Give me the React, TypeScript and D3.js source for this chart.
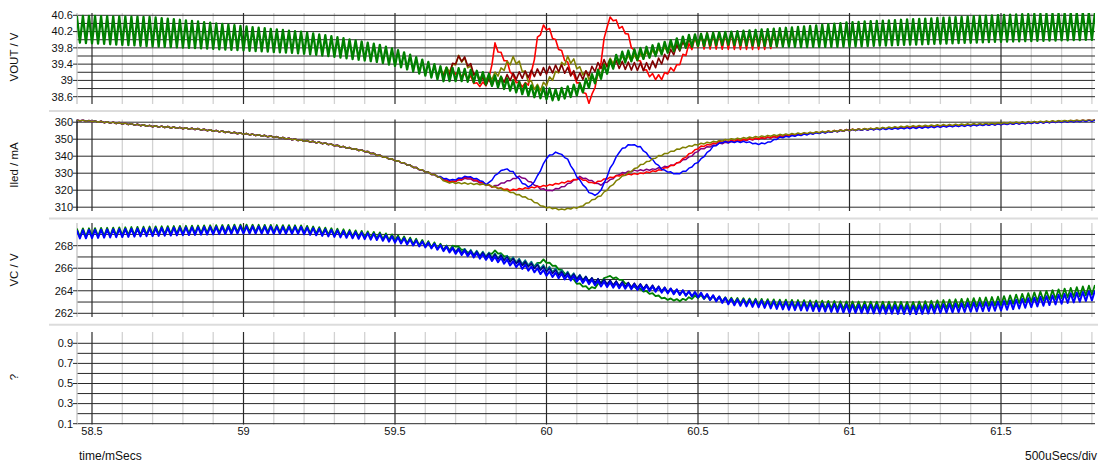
import React from 'react';
import * as d3 from 'd3';

type Pt = [number, number];

const WIDTH = 1098;
const HEIGHT = 463;

// Time axis, ms
const T_MIN = 58.45;
const T_MAX = 61.81;
const X_MAJOR_TICKS = [58.5, 59, 59.5, 60, 60.5, 61, 61.5];
const X_TICK_LABELS = ['58.5', '59', '59.5', '60', '60.5', '61', '61.5'];
// Converter switching period (ms): every waveform carries this ripple
const SWITCH_PERIOD = 0.02;

// ---------- VOUT / V ----------
const VOUT_TICKS = [38.6, 39, 39.4, 39.8, 40.2, 40.6];
const VOUT_TICK_LABELS = ['38.6', '39', '39.4', '39.8', '40.2', '40.6'];

const VOUT_GREEN_MID: Pt[] = [
  [58.45, 40.26], [58.69, 40.2], [58.85, 40.12], [58.99, 40.04], [59.19, 39.93],
  [59.29, 39.84], [59.45, 39.66], [59.52, 39.52], [59.6, 39.3], [59.66, 39.15],
  [59.72, 39.14], [59.78, 39.08], [59.85, 38.95], [59.95, 38.74], [60.03, 38.64],
  [60.11, 38.79], [60.18, 39.18], [60.24, 39.55], [60.34, 39.7], [60.47, 39.97],
  [60.57, 40.03], [60.84, 40.07], [61.0, 40.13], [61.17, 40.18], [61.5, 40.28],
  [61.81, 40.34],
];
const VOUT_GREEN_HALF: Pt[] = [
  [58.45, 0.33], [58.69, 0.36], [58.99, 0.3], [59.29, 0.25], [59.52, 0.2],
  [59.66, 0.17], [59.8, 0.14], [60.3, 0.14], [60.5, 0.15], [60.6, 0.16],
  [60.84, 0.25], [61.0, 0.3], [61.5, 0.33], [61.81, 0.34],
];

const VOUT_RED_MID: Pt[] = [
  [59.64, 39.18], [59.7, 39.2], [59.75, 39.06], [59.77, 38.89], [59.8, 38.92],
  [59.81, 39.01], [59.83, 39.87], [59.847, 39.67], [59.87, 39.43], [59.89, 39.08],
  [59.913, 38.89], [59.936, 38.89], [59.946, 39.01], [59.955, 39.33], [59.969, 39.99],
  [59.988, 40.31], [60.005, 40.29], [60.021, 40.07], [60.045, 39.75], [60.068, 39.43],
  [60.087, 39.13], [60.11, 38.89], [60.134, 38.57], [60.144, 38.44], [60.153, 38.69],
  [60.177, 39.33], [60.186, 39.82], [60.203, 40.48], [60.219, 40.53], [60.243, 40.31],
  [60.266, 40.17], [60.285, 39.75], [60.309, 39.43], [60.332, 39.18], [60.358, 39.08],
  [60.384, 39.08], [60.398, 39.21], [60.431, 39.33], [60.45, 39.58], [60.474, 39.85],
  [60.5, 39.97], [60.6, 39.97], [60.72, 39.98], [60.78, 40.05], [60.82, 40.07],
];
const VOUT_RED_HALF: Pt[] = [[59.64, 0.05], [60.45, 0.06], [60.52, 0.2], [60.74, 0.22], [60.82, 0.17]];

const VOUT_OLIVE_MID: Pt[] = [
  [59.64, 39.18], [59.688, 39.3], [59.708, 39.55], [59.728, 39.5], [59.748, 39.3],
  [59.771, 39.11], [59.813, 39.06], [59.847, 39.21], [59.87, 39.4], [59.893, 39.53],
  [59.913, 39.38], [59.936, 39.08], [59.955, 38.86], [59.979, 38.81], [60.002, 38.96],
  [60.028, 39.13], [60.051, 39.38], [60.071, 39.53], [60.091, 39.45], [60.11, 39.26],
  [60.144, 39.08], [60.167, 39.01], [60.183, 39.26], [60.2, 39.45], [60.243, 39.53],
  [60.292, 39.55], [60.342, 39.65], [60.391, 39.75], [60.441, 39.85], [60.49, 39.97],
  [60.53, 40.02],
];
const VOUT_OLIVE_HALF: Pt[] = [[59.64, 0.07], [60.53, 0.08]];

const VOUT_MAROON_MID: Pt[] = [
  [59.64, 39.18], [59.681, 39.21], [59.701, 39.5], [59.721, 39.55], [59.741, 39.43],
  [59.761, 39.21], [59.781, 39.01], [59.813, 38.94], [59.847, 39.01], [59.88, 39.08],
  [59.913, 39.13], [59.946, 39.16], [59.979, 39.21], [60.012, 39.26], [60.045, 39.31],
  [60.078, 39.21], [60.104, 39.08], [60.127, 39.13], [60.16, 39.31], [60.193, 39.43],
  [60.226, 39.4], [60.276, 39.35], [60.325, 39.33], [60.358, 39.4], [60.391, 39.55],
  [60.424, 39.75], [60.457, 39.89], [60.49, 39.99], [60.53, 40.02],
];
const VOUT_MAROON_HALF: Pt[] = [[59.64, 0.08], [60.53, 0.1]];

// ---------- Iled / mA ----------
const ILED_TICKS = [310, 320, 330, 340, 350, 360];
const ILED_TICK_LABELS = ['310', '320', '330', '340', '350', '360'];

const ILED_COMMON: Pt[] = [
  [58.45, 361.2], [58.6, 359.3], [58.69, 357.8], [58.85, 355.9], [58.94, 354.3],
  [59.1, 351.4], [59.27, 347.5], [59.4, 343.0], [59.52, 336.5], [59.6, 331.0],
  [59.64, 328.3],
];
const ILED_OLIVE_TAIL: Pt[] = [
  [59.67, 324.6], [59.73, 324.0], [59.78, 323.5], [59.81, 323.0], [59.88, 319.0],
  [59.94, 315.1], [59.99, 310.2], [60.05, 308.6], [60.11, 310.0], [60.18, 317.0],
  [60.24, 326.9], [60.31, 334.7], [60.37, 340.0], [60.44, 344.5], [60.5, 347.0],
  [60.6, 349.8], [60.76, 352.4], [60.99, 355.3], [61.2, 357.6], [61.5, 359.4],
  [61.81, 361.5],
];
const ILED_BLUE_TAIL: Pt[] = [
  [59.67, 326.5], [59.691, 325.9], [59.738, 328.2], [59.781, 325.9], [59.804, 323.0],
  [59.837, 329.8], [59.863, 332.7], [59.889, 330.8], [59.922, 323.9], [59.946, 321.6],
  [59.969, 327.8], [60.002, 339.6], [60.035, 342.5], [60.068, 338.6], [60.101, 327.8],
  [60.144, 318.0], [60.167, 317.0], [60.186, 322.0], [60.21, 332.7], [60.243, 343.5],
  [60.276, 347.1], [60.309, 345.5], [60.351, 337.6], [60.384, 331.8], [60.431, 329.4],
  [60.464, 331.8], [60.507, 337.6], [60.549, 345.5], [60.582, 348.4], [60.662, 348.4],
  [60.695, 347.1], [60.728, 347.8], [60.771, 351.0], [60.88, 353.3], [60.992, 355.3],
  [61.21, 356.6], [61.5, 358.8], [61.81, 361.0],
];
const ILED_RED_TAIL: Pt[] = [
  [59.67, 325.5], [59.691, 324.9], [59.738, 327.8], [59.781, 324.9], [59.823, 322.0],
  [59.88, 320.0], [59.955, 321.6], [60.012, 323.0], [60.068, 324.9], [60.11, 326.9],
  [60.153, 323.9], [60.2, 326.9], [60.243, 328.8], [60.309, 329.8], [60.375, 331.8],
  [60.431, 335.7], [60.474, 341.6], [60.507, 345.5], [60.573, 348.4], [60.662, 349.8],
  [60.728, 351.0], [60.88, 353.7], [61.0, 355.5], [61.21, 357.0], [61.5, 359.0],
  [61.81, 361.2],
];
const ILED_PURPLE_TAIL: Pt[] = [
  [59.67, 325.5], [59.691, 325.0], [59.738, 327.0], [59.781, 324.5], [59.823, 322.0],
  [59.88, 325.9], [59.913, 328.2], [59.946, 324.9], [59.979, 321.0], [60.012, 319.6],
  [60.055, 322.0], [60.11, 327.8], [60.144, 325.9], [60.177, 323.0], [60.21, 325.9],
  [60.243, 329.8], [60.285, 331.4], [60.351, 332.2], [60.417, 334.7], [60.474, 339.6],
  [60.507, 344.0], [60.573, 347.5], [60.66, 349.5], [60.88, 353.5], [61.0, 355.3],
  [61.21, 357.0], [61.5, 359.0], [61.81, 361.2],
];
const ILED_HALF: Pt[] = [[58.45, 0.35], [61.81, 0.35]];

// ---------- VC / V ----------
const VC_TICKS = [262, 264, 266, 268];
const VC_TICK_LABELS = ['262', '264', '266', '268'];

const VC_BLUE_MID: Pt[] = [
  [58.45, 269.0], [58.69, 269.2], [58.99, 269.4], [59.19, 269.35], [59.29, 269.1],
  [59.45, 268.75], [59.52, 268.45], [59.62, 268.0], [59.7, 267.5], [59.85, 266.7],
  [60.0, 265.55], [60.18, 264.6], [60.34, 264.2], [60.51, 263.6], [60.61, 263.0],
  [60.77, 262.7], [61.0, 262.4], [61.21, 262.3], [61.5, 262.65], [61.81, 263.6],
];
const VC_BLUE_HALF: Pt[] = [
  [58.45, 0.37], [59.3, 0.3], [59.7, 0.22], [60.5, 0.22], [60.8, 0.35], [61.81, 0.42],
];
const VC_GREEN_MID: Pt[] = [
  [58.45, 269.15], [58.69, 269.35], [58.99, 269.55], [59.19, 269.5], [59.29, 269.25],
  [59.45, 268.9], [59.52, 268.6], [59.62, 268.1], [59.68, 267.75], [59.7, 268.0],
  [59.72, 267.7], [59.75, 267.35], [59.8, 267.1], [59.83, 267.5], [59.87, 267.0],
  [59.92, 266.35], [59.96, 266.25], [59.99, 266.7], [60.03, 266.15], [60.06, 265.6],
  [60.1, 264.7], [60.14, 264.2], [60.16, 264.3], [60.2, 265.3], [60.24, 265.05],
  [60.28, 264.4], [60.34, 263.8], [60.39, 263.3], [60.44, 263.15], [60.5, 263.5],
  [60.61, 263.15], [60.77, 262.9], [61.0, 262.7], [61.21, 262.65], [61.5, 263.1],
  [61.81, 264.1],
];
const VC_GREEN_HALF: Pt[] = [
  [58.45, 0.37], [59.3, 0.3], [59.66, 0.25], [59.7, 0.08], [60.45, 0.08],
  [60.55, 0.2], [60.8, 0.33], [61.81, 0.42],
];
const VC_NAVY_MID: Pt[] = [
  [59.62, 268.0], [59.75, 267.35], [59.85, 266.95], [59.95, 266.25], [60.05, 265.5],
  [60.15, 264.95], [60.25, 264.6], [60.35, 264.3], [60.45, 263.85], [60.55, 263.4],
  [60.62, 263.0],
];
const VC_TEAL_MID: Pt[] = [
  [59.62, 268.0], [59.75, 267.45], [59.85, 267.05], [59.95, 266.4], [60.05, 265.65],
  [60.15, 264.95], [60.25, 264.55], [60.35, 264.25], [60.45, 263.8], [60.55, 263.35],
  [60.62, 263.0],
];
const VC_INNER_HALF: Pt[] = [[59.62, 0.2], [60.62, 0.2]];

// ---------- ? ----------
const Q_TICKS = [0.1, 0.3, 0.5, 0.7, 0.9];
const Q_TICK_LABELS = ['0.1', '0.3', '0.5', '0.7', '0.9'];

// Midline plus switching ripple, sampled at every half period (peaks and valleys)
function withRipple(mid: Pt[], half: Pt[]): Pt[] {
  const m = d3.scaleLinear().domain(mid.map((d) => d[0])).range(mid.map((d) => d[1]));
  const h = d3
    .scaleLinear()
    .domain(half.map((d) => d[0]))
    .range(half.map((d) => d[1]))
    .clamp(true);
  const step = SWITCH_PERIOD / 2;
  const t0 = mid[0][0];
  const t1 = mid[mid.length - 1][0];
  const k0 = Math.ceil((t0 - T_MIN) / step - 1e-9);
  const k1 = Math.floor((t1 - T_MIN) / step + 1e-9);
  const out: Pt[] = [];
  for (let k = k0; k <= k1; k++) {
    const t = T_MIN + k * step;
    const s = k % 2 === 0 ? 1 : -1;
    out.push([t, m(t) + s * h(t)]);
  }
  return out;
}

const PLOT_LEFT = 77;
const PLOT_RIGHT = 1095;
const FONT = '"Liberation Sans", Arial, sans-serif';

const x = d3.scaleLinear().domain([58.5, 61.5]).range([92, 1001]);

interface Trace {
  pts: Pt[];
  color: string;
  width: number;
}

interface Panel {
  id: string;
  title: string;
  titleY: number;
  top: number;
  bottom: number;
  y: d3.ScaleLinear<number, number>;
  grid: number[];
  ticks: number[];
  tickLabels: string[];
  axisColor: string;
  traces: Trace[];
}

const panels: Panel[] = [
  {
    id: 'vout',
    title: 'VOUT / V',
    titleY: 57,
    top: 13,
    bottom: 104,
    y: d3.scaleLinear().domain([38.6, 40.6]).range([96.7, 15.3]),
    grid: d3.range(0, 11).map((i) => 38.6 + 0.2 * i),
    ticks: VOUT_TICKS,
    tickLabels: VOUT_TICK_LABELS,
    axisColor: '#c4c4c4',
    traces: [
      { pts: withRipple(VOUT_RED_MID, VOUT_RED_HALF), color: '#ff0000', width: 1.6 },
      { pts: withRipple(VOUT_OLIVE_MID, VOUT_OLIVE_HALF), color: '#808000', width: 1.6 },
      { pts: withRipple(VOUT_MAROON_MID, VOUT_MAROON_HALF), color: '#800000', width: 1.6 },
      { pts: withRipple(VOUT_GREEN_MID, VOUT_GREEN_HALF), color: '#008000', width: 2.3 },
    ],
  },
  {
    id: 'iled',
    title: 'Iled / mA',
    titleY: 165,
    top: 119.5,
    bottom: 211,
    y: d3.scaleLinear().domain([310, 360]).range([207.2, 122.2]),
    grid: d3.range(310, 361, 10),
    ticks: ILED_TICKS,
    tickLabels: ILED_TICK_LABELS,
    axisColor: '#000',
    traces: [
      { pts: withRipple([...ILED_COMMON, ...ILED_PURPLE_TAIL], ILED_HALF), color: '#800080', width: 1.5 },
      { pts: withRipple([...ILED_COMMON, ...ILED_RED_TAIL], ILED_HALF), color: '#ff0000', width: 1.5 },
      { pts: withRipple([...ILED_COMMON, ...ILED_BLUE_TAIL], ILED_HALF), color: '#0000ff', width: 1.5 },
      { pts: withRipple([...ILED_COMMON, ...ILED_OLIVE_TAIL], ILED_HALF), color: '#808000', width: 1.5 },
    ],
  },
  {
    id: 'vc',
    title: 'VC / V',
    titleY: 270,
    top: 223,
    bottom: 317,
    y: d3.scaleLinear().domain([262, 268]).range([313.3, 245.7]),
    grid: d3.range(262, 270, 1),
    ticks: VC_TICKS,
    tickLabels: VC_TICK_LABELS,
    axisColor: '#c4c4c4',
    traces: [
      { pts: withRipple(VC_GREEN_MID, VC_GREEN_HALF), color: '#008000', width: 1.8 },
      { pts: withRipple(VC_TEAL_MID, VC_INNER_HALF), color: '#008080', width: 1.5 },
      { pts: withRipple(VC_NAVY_MID, VC_INNER_HALF), color: '#000080', width: 1.5 },
      { pts: withRipple(VC_BLUE_MID, VC_BLUE_HALF), color: '#0000ff', width: 2 },
    ],
  },
  {
    id: 'q',
    title: '?',
    titleY: 377,
    top: 332,
    bottom: 424.5,
    y: d3.scaleLinear().domain([0.1, 0.9]).range([423.7, 343.3]),
    grid: d3.range(1, 10).map((i) => i / 10),
    ticks: Q_TICKS,
    tickLabels: Q_TICK_LABELS,
    axisColor: '#c4c4c4',
    traces: [],
  },
];

const SEPARATORS = [111, 218.5, 324.8];
const minorTimes = d3
  .range(585, 619)
  .map((i) => i / 10)
  .filter((t) => !X_MAJOR_TICKS.some((m) => Math.abs(m - t) < 1e-6));

export default function App() {
  return (
    <svg
      width={WIDTH}
      height={HEIGHT}
      style={{ position: 'absolute', left: 0, top: 0, background: '#fff' }}
      fontFamily={FONT}
    >
      <rect x={0} y={0} width={WIDTH} height={HEIGHT} fill="#fff" />
      <defs>
        {panels.map((p) => (
          <clipPath id={`clip-${p.id}`} key={p.id}>
            <rect x={PLOT_LEFT} y={p.top} width={PLOT_RIGHT - PLOT_LEFT} height={p.bottom - p.top} />
          </clipPath>
        ))}
      </defs>

      {SEPARATORS.map((s) => (
        <line key={s} x1={49} x2={WIDTH} y1={s} y2={s} stroke="#dcdcdc" strokeWidth={2} />
      ))}

      {panels.map((p) => {
        const line = d3
          .line<Pt>()
          .x((d) => x(d[0]))
          .y((d) => p.y(d[1]));
        return (
          <g key={p.id}>
            {minorTimes.map((t) => (
              <line key={`mi${t}`} x1={x(t)} x2={x(t)} y1={p.top} y2={p.bottom} stroke="#d2d2d2" strokeWidth={1.3} />
            ))}
            {p.grid.map((v) => (
              <line key={`h${v}`} x1={PLOT_LEFT} x2={PLOT_RIGHT} y1={p.y(v)} y2={p.y(v)} stroke="#2a2a2a" strokeWidth={1} />
            ))}
            {X_MAJOR_TICKS.map((t) => (
              <line key={`ma${t}`} x1={x(t)} x2={x(t)} y1={p.top} y2={p.bottom} stroke="#2a2a2a" strokeWidth={1.2} />
            ))}
            <line x1={PLOT_LEFT} x2={PLOT_LEFT} y1={p.top} y2={p.bottom} stroke={p.axisColor} strokeWidth={1.3} />
            {p.ticks.map((v, i) => (
              <g key={`t${v}`}>
                <line x1={PLOT_LEFT - 4} x2={PLOT_LEFT} y1={p.y(v)} y2={p.y(v)} stroke="#2a2a2a" strokeWidth={1} />
                <text x={PLOT_LEFT - 4} y={p.y(v)} dy="0.35em" textAnchor="end" fontSize={11} fill="#111">
                  {p.tickLabels[i]}
                </text>
              </g>
            ))}
            <text
              transform={`translate(18,${p.titleY}) rotate(-90)`}
              textAnchor="middle"
              fontSize={11.5}
              fill="#111"
            >
              {p.title}
            </text>
            <g clipPath={`url(#clip-${p.id})`}>
              {p.traces.map((tr, i) => (
                <path
                  key={i}
                  d={line(tr.pts) ?? ''}
                  fill="none"
                  stroke={tr.color}
                  strokeWidth={tr.width}
                  strokeLinejoin="round"
                />
              ))}
            </g>
          </g>
        );
      })}

      {X_MAJOR_TICKS.map((t, i) => (
        <text key={`xl${t}`} x={x(t)} y={435} textAnchor="middle" fontSize={11} fill="#111">
          {X_TICK_LABELS[i]}
        </text>
      ))}
      <text x={79} y={460} fontSize={12} fill="#111">
        time/mSecs
      </text>
      <text x={1097} y={460} textAnchor="end" fontSize={12} fill="#111">
        500uSecs/div
      </text>
    </svg>
  );
}
